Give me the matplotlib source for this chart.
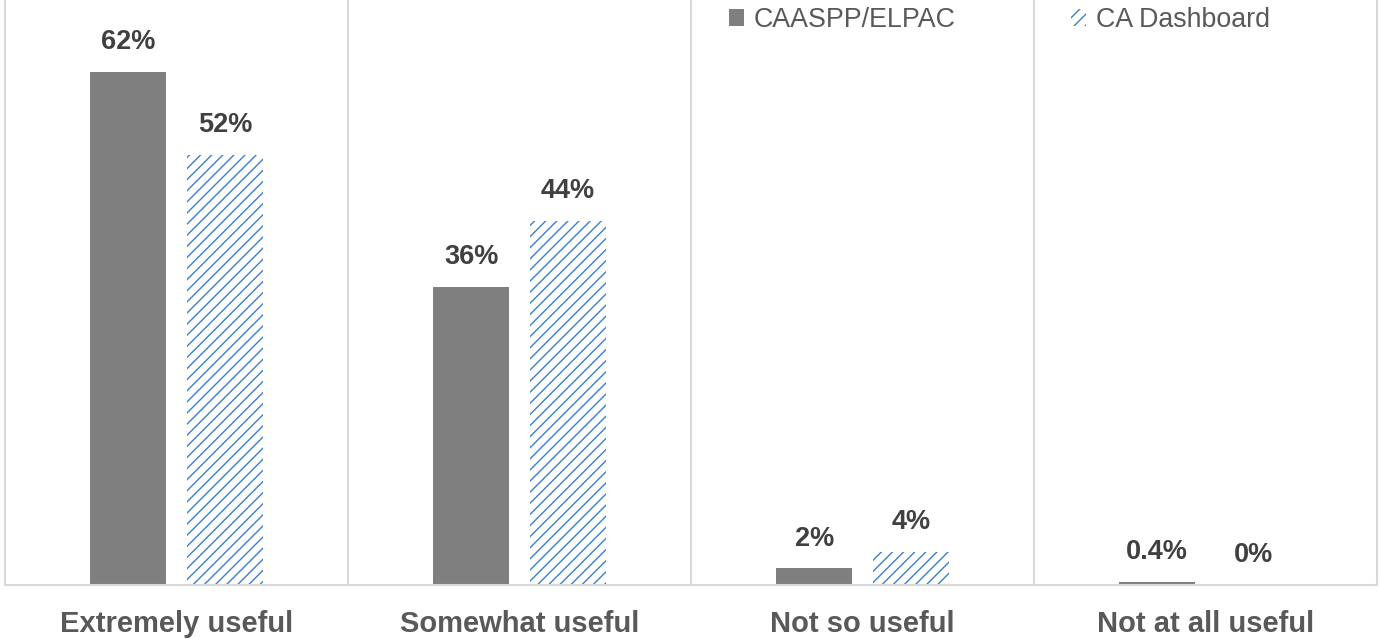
import matplotlib.pyplot as plt
import numpy as np

categories = ['Extremely useful', 'Somewhat useful', 'Not so useful', 'Not at all useful']
caaspp = [62, 36, 2, 0.4]
dashboard = [52, 44, 4, 0]
caaspp_labels = ['62%', '36%', '2%', '0.4%']
dashboard_labels = ['52%', '44%', '4%', '0%']

plt.rcParams['font.family'] = ['Liberation Sans', 'DejaVu Sans']
plt.rcParams['hatch.linewidth'] = 1.0

gray = '#7f7f7f'
blue = '#3a7fd0'
txt = '#404040'
sep = '#d9d9d9'

fig = plt.figure(figsize=(13.81, 6.39), dpi=100)
ax = fig.add_axes([5 / 1381, 54 / 639, 1372 / 1381, 1 - 54 / 639])

x = np.arange(len(categories))
w = 0.22
off = 0.141
b1 = ax.bar(x - off, caaspp, w, color=gray, label='CAASPP/ELPAC')
b2 = ax.bar(x + off, dashboard, w, facecolor='white', edgecolor=blue, linewidth=0,
            hatch='///', label='CA Dashboard')

for bars, labs in ((b1, caaspp_labels), (b2, dashboard_labels)):
    for r, lab in zip(bars, labs):
        ax.annotate(lab, (r.get_x() + r.get_width() / 2, r.get_height()),
                    xytext=(0, 12), textcoords='offset points', ha='center', va='bottom',
                    fontsize=19.5, fontweight='bold', color=txt)

ax.set_xlim(-0.5, len(categories) - 0.5)
ax.set_ylim(0, 70.7)
for i in range(1, len(categories)):
    ax.axvline(i - 0.5, color=sep, lw=1.5)
for s in ('left', 'right', 'bottom'):
    ax.spines[s].set_color(sep)
    ax.spines[s].set_linewidth(1.5)
ax.spines['top'].set_visible(False)
ax.set_yticks([])
ax.set_xticks(x)
ax.set_xticklabels(categories, fontsize=21, fontweight='bold', color='#595959')
ax.tick_params(axis='x', length=0, pad=18)

ax.legend(loc='upper left', bbox_to_anchor=(0.528, 0.988), ncol=2, frameon=False,
          fontsize=19.3, labelcolor='#595959', handlelength=0.55, handleheight=0.55,
          handletextpad=0.37, columnspacing=4.3, borderpad=0, borderaxespad=0)

fig.savefig('out.png', dpi=100)
